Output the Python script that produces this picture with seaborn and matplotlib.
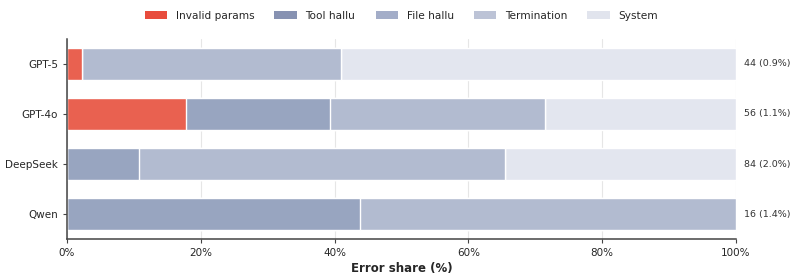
import numpy as np
import matplotlib
matplotlib.use("Agg")
import matplotlib.pyplot as plt
from matplotlib.patches import Patch
import seaborn as sns

# error counts per model and category
models = ["GPT-5", "GPT-4o", "DeepSeek", "Qwen"]
categories = ["Invalid params", "Tool hallu", "File hallu", "Termination", "System"]
invalid_params = [1, 10, 0, 0]
tool_hallu = [0, 12, 9, 7]
file_hallu = [17, 18, 46, 9]
termination = [0, 0, 0, 0]
system = [26, 16, 29, 0]
error_rate = ["0.9%", "1.1%", "2.0%", "1.4%"]

bar_colors = ["#e96150", "#98a5c0", "#b2bbd0", "#c9cfde", "#e3e6ef"]
legend_colors = ["#e84c3d", "#8792b2", "#a3adc8", "#bcc3d6", "#e1e4ed"]

counts = np.array([invalid_params, tool_hallu, file_hallu, termination, system], dtype=float)
totals = counts.sum(axis=0)
shares = counts / totals * 100
cum = np.cumsum(shares, axis=0)

sns.set_style("white")
plt.rcParams["font.family"] = ["DejaVu Sans"]

fig = plt.figure(figsize=(7.98, 2.8), dpi=100)
ax = fig.add_axes([0.084, 0.146, 0.838, 0.715])

# draw cumulative bars from the widest down so they stack
for i in range(len(categories) - 1, -1, -1):
    sns.barplot(x=cum[i], y=models, orient="h", color=bar_colors[i], saturation=1,
                width=0.64, edgecolor="white", linewidth=1.0, ax=ax, zorder=2)

ax.set_xlim(0, 100)
ax.set_ylim(3.5, -0.5)
ax.set_xticks([0, 20, 40, 60, 80, 100])
ax.set_xticklabels([f"{t}%" for t in [0, 20, 40, 60, 80, 100]], fontsize=7.5)
ax.tick_params(axis="y", labelsize=7.5, length=3, color="#444444", left=True)
ax.tick_params(axis="x", length=3, color="#444444", bottom=True)
ax.set_ylabel("")
ax.set_xlabel("Error share (%)", fontsize=8.5, fontweight="bold", labelpad=3)
ax.xaxis.grid(True, color="#e6e6e6", linewidth=0.8, zorder=0)
ax.set_axisbelow(True)
for s in ["top", "right"]:
    ax.spines[s].set_visible(False)
for s in ["left", "bottom"]:
    ax.spines[s].set_color("#444444")
    ax.spines[s].set_linewidth(1.1)

for j, m in enumerate(models):
    ax.annotate(f"{int(totals[j])} ({error_rate[j]})", xy=(100, j), xytext=(6, 0),
                textcoords="offset points", va="center", ha="left",
                fontsize=6.8, color="#333333", annotation_clip=False)

handles = [Patch(facecolor=c, edgecolor="none") for c in legend_colors]
fig.legend(handles, categories, loc="center", bbox_to_anchor=(0.503, 0.943), ncol=5,
           frameon=False, fontsize=7.6, handlelength=2.1, handleheight=0.75,
           handletextpad=0.85, columnspacing=1.9)

fig.savefig("out.png", dpi=100)
